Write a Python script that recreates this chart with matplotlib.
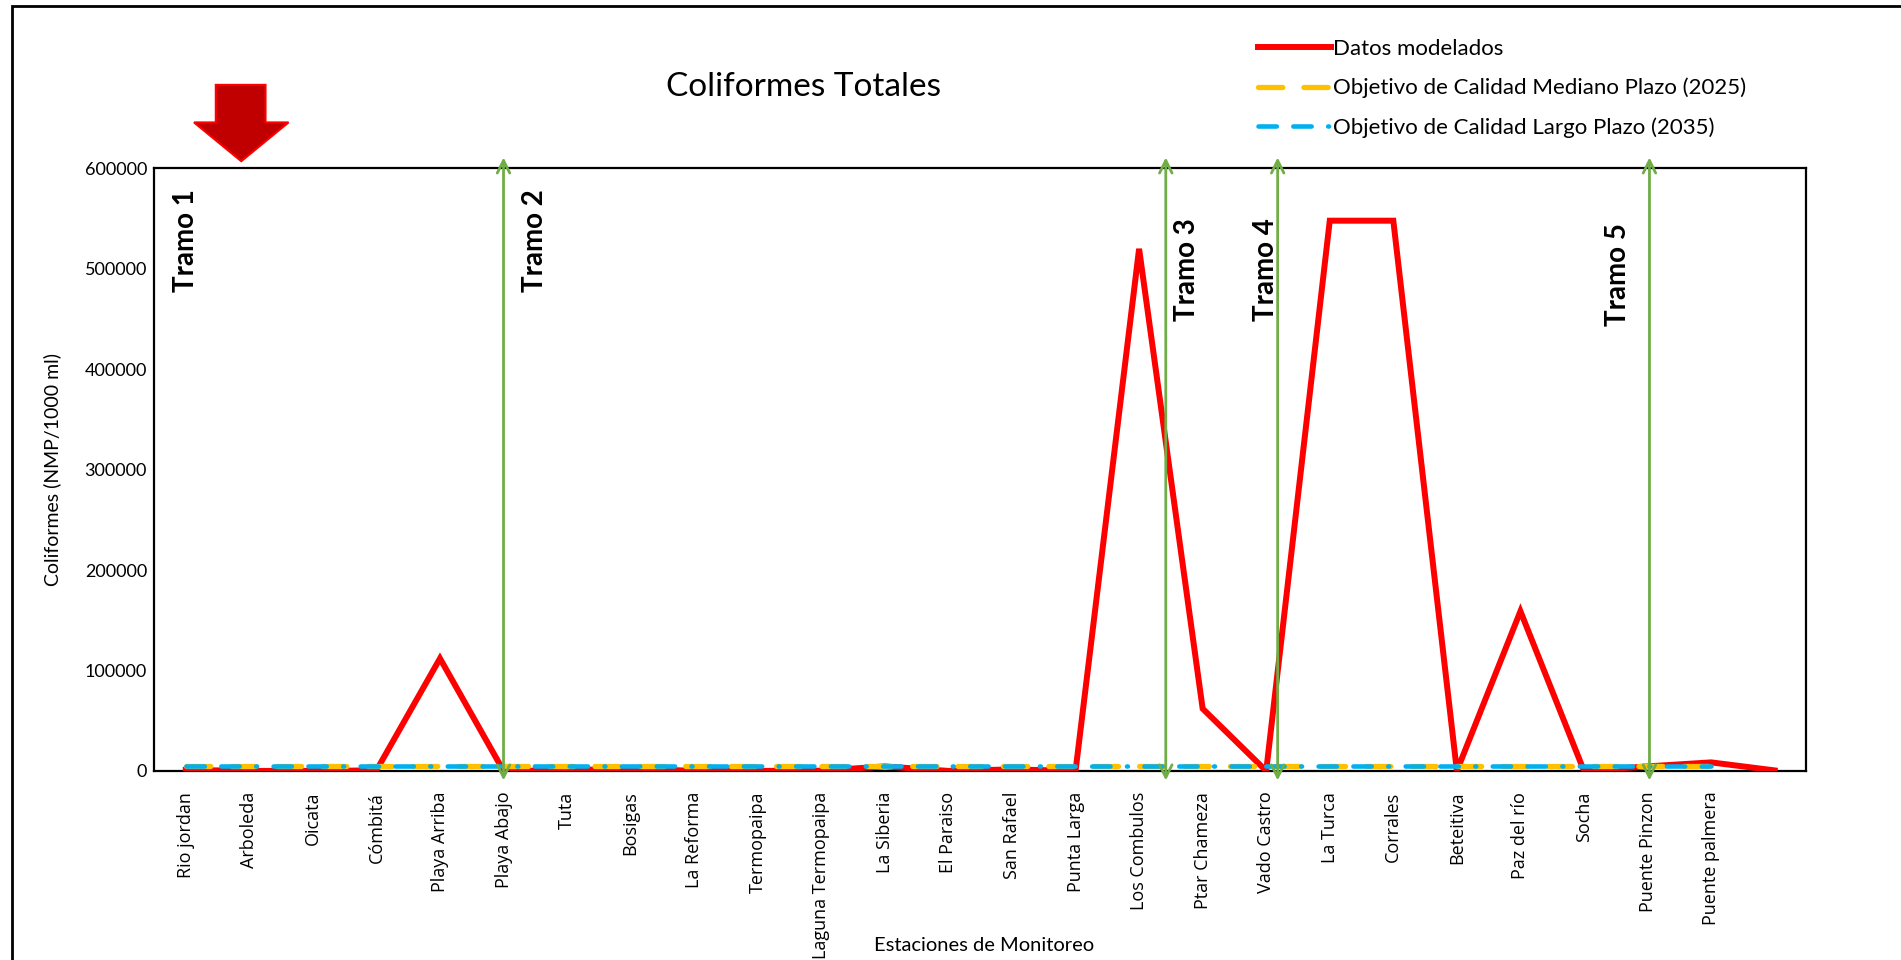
import matplotlib
matplotlib.use("Agg")
import matplotlib.pyplot as plt
from matplotlib.patches import Polygon, Rectangle

# ---------------- data ----------------
estaciones = ["Rio jordan", "Arboleda", "Oicata", "Cómbitá", "Playa Arriba",
              "Playa Abajo", "Tuta", "Bosigas", "La Reforma", "Termopaipa",
              "Laguna Termopaipa", "La Siberia", "El Paraiso", "San Rafael",
              "Punta Larga", "Los Combulos", "Ptar Chameza", "Vado Castro",
              "La Turca", "Corrales", "Beteitiva", "Paz del río", "Socha",
              "Puente Pinzon", "Puente palmera", ""]
datos_modelados = [1000, 0, 0, 500, 112000, 0, 500, 2500, 0, 0,
                   200, 4500, 0, 1500, 0, 520000, 62000, 0,
                   548000, 548000, 0, 159000, 0, 4500, 8500, 500]
obj_mediano = [5000] * 25
obj_largo = [5000] * 25
yticks = [0, 100000, 200000, 300000, 400000, 500000, 600000]

tramo_labels = ["Tramo 1", "Tramo 2", "Tramo 3", "Tramo 4", "Tramo 5"]
tramo_text_x = [0.0, 5.5, 15.76, 17.0, 22.53]
tramo_text_y = [528000, 528000, 499000, 499000, 494000]
tramo_arrow_x = [5.0, 15.42, 17.18, 23.03]

# ---------------- figure ----------------
W, H = 1568.0, 792.0  # reference layout units
fig = plt.figure(figsize=(19.01, 9.60), dpi=100)
fig.patch.set_facecolor("white")

def fx(x):
    return x / W

def fy(y):
    return 1 - y / H

ax = fig.add_axes([fx(127), fy(636), fx(1490) - fx(127), fy(139) - fy(636)])

x = list(range(len(estaciones)))
ax.plot(x, datos_modelados, color="#FF0000", lw=4.3, zorder=3,
        solid_joinstyle="miter", label="Datos modelados")
ax.plot(x[:len(obj_mediano)], obj_mediano, color="#FFC000", lw=3.8,
        dashes=(4.6, 4.0), dash_capstyle="round", zorder=4,
        label="Objetivo de Calidad Mediano Plazo (2025)")
ax.plot(x[:len(obj_largo)], obj_largo, color="#00B0F0", lw=3.3,
        dashes=(4.0, 3.6, 4.0, 3.6, 0.2, 3.6), dash_capstyle="round", zorder=5,
        label="Objetivo de Calidad Largo Plazo (2035)")

ax.set_xlim(-0.5, len(estaciones) - 0.5)
ax.set_ylim(0, 600000)
ax.set_yticks(yticks)
ax.set_yticklabels([str(v) for v in yticks], fontfamily="Lato", fontsize=13)
ax.set_xticks(x)
ax.set_xticklabels(estaciones, rotation=90, fontfamily="Open Sans", fontsize=13,
                   va="top", ha="center")
ax.tick_params(axis="both", length=0)
ax.tick_params(axis="y", pad=5)
ax.tick_params(axis="x", pad=15)
for s in ax.spines.values():
    s.set_color("black")
    s.set_linewidth(1.6)

fig.text(fx(43), (fy(139) + fy(636)) / 2, "Coliformes (NMP/1000 ml)", rotation=90,
         ha="center", va="center", fontfamily="Lato", fontsize=14)
fig.text(fx(812), fy(780), "Estaciones de Monitoreo", ha="center", va="center",
         fontfamily="Lato", fontsize=14.5)

# title
fig.text(fx(663), fy(72), "Coliformes Totales", ha="center", va="center",
         fontfamily="Lato", fontsize=24)

# tramo arrows
for ax_x in tramo_arrow_x:
    ax.annotate("", xy=(ax_x, 611000), xytext=(ax_x, -9500),
                xycoords="data", textcoords="data", annotation_clip=False,
                arrowprops=dict(arrowstyle="<->,head_length=0.9,head_width=0.45",
                                color="#70AD47", lw=2.0, shrinkA=0, shrinkB=0),
                zorder=6)

for lab, tx, ty in zip(tramo_labels, tramo_text_x, tramo_text_y):
    ax.text(tx, ty, lab, rotation=90, ha="center", va="center",
            fontfamily="Lato", fontweight="bold", fontsize=20, zorder=7)

# legend
fig.legend(loc="upper left", bbox_to_anchor=(fx(1030), fy(25)), frameon=False,
           prop={"family": "Lato", "size": 16}, handlelength=3.3,
           handletextpad=0.1, labelspacing=0.84, borderaxespad=0)

# red block arrow (decorative shape)
arrow_pts = [(178, 70), (219, 70), (219, 101), (238, 101), (199, 133),
             (160, 101), (178, 101)]
fig.add_artist(Polygon([(fx(px), fy(py)) for px, py in arrow_pts], closed=True,
                       facecolor="#C00000", edgecolor="#FF0000", lw=1.5,
                       transform=fig.transFigure))

# outer chart border
fig.add_artist(Rectangle((fx(10), -0.1), 1.2, fy(5) + 0.1, fill=False,
                         edgecolor="black", lw=2.0, transform=fig.transFigure))

fig.savefig("out.png", dpi=100, facecolor="white")
